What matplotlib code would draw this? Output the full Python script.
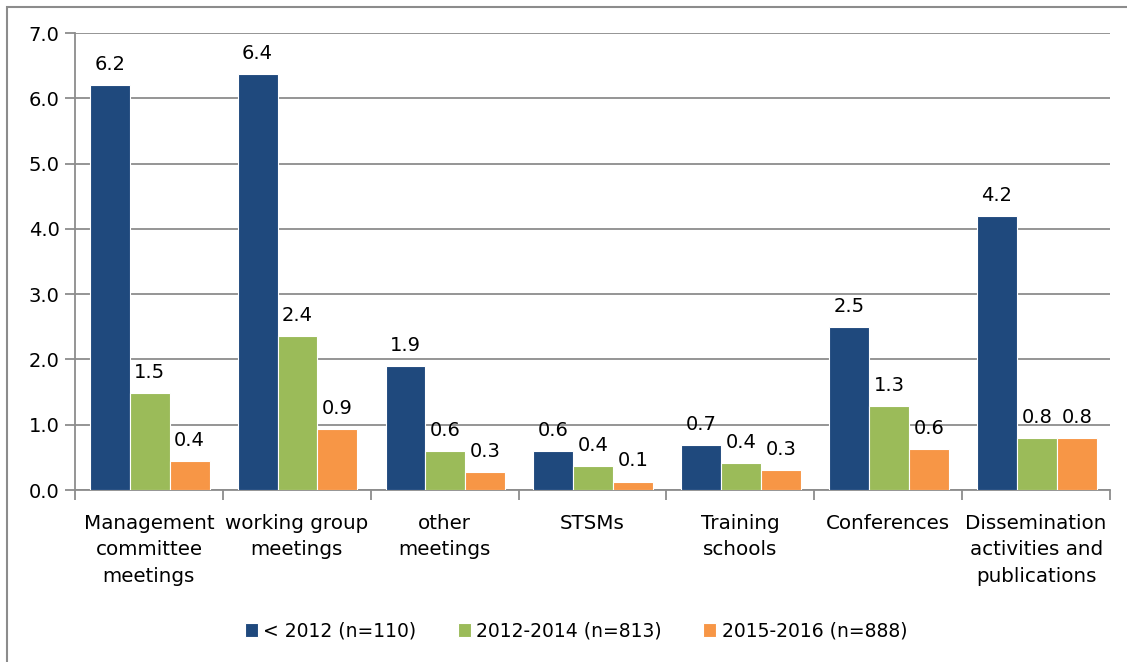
import matplotlib.pyplot as plt
import numpy as np
from matplotlib.patches import Rectangle

plt.rcParams['font.family'] = ['DejaVu Sans']

categories = ['Management\ncommittee\nmeetings', 'working group\nmeetings', 'other\nmeetings',
              'STSMs', 'Training\nschools', 'Conferences',
              'Dissemination\nactivities and\npublications']
series_names = ['< 2012 (n=110)', '2012-2014 (n=813)', '2015-2016 (n=888)']
before_2012 = [6.2, 6.37, 1.9, 0.6, 0.69, 2.5, 4.2]
y2012_2014 = [1.49, 2.36, 0.6, 0.36, 0.41, 1.29, 0.8]
y2015_2016 = [0.44, 0.93, 0.28, 0.13, 0.3, 0.63, 0.8]
colors = ['#1F497D', '#9BBB59', '#F79646']

fig = plt.figure(figsize=(11.27, 6.62), dpi=100)
ax = fig.add_axes([75/1127, 1 - 490/662, 1035/1127, 457/662])

x = np.arange(len(categories))
w = 0.27
for i, (vals, c, name) in enumerate(zip([before_2012, y2012_2014, y2015_2016], colors, series_names)):
    pos = x + (i - 1) * w + 0.005
    bars = ax.bar(pos, vals, w, color=c, edgecolor='white', linewidth=0.8, label=name, zorder=3)
    for b, v in zip(bars, vals):
        ax.text(b.get_x() + b.get_width() / 2, v + 0.17, f'{v:.1f}', ha='center', va='bottom',
                fontsize=14, color='black')

ax.set_xlim(-0.5, len(categories) - 0.5)
ax.set_ylim(0, 7)
ax.set_yticks(np.arange(0, 7.01, 1))
ax.set_yticklabels([f'{t:.1f}' for t in np.arange(0, 7.01, 1)], fontsize=14)
ax.yaxis.grid(True, color='#8c8c8c', linewidth=1.3, zorder=0)
ax.set_axisbelow(True)

ax.set_xticks(x)
ax.set_xticklabels(categories, fontsize=14.3, linespacing=1.5, va='top')
ax.tick_params(axis='x', which='major', length=0, pad=17)
ax.set_xticks(np.arange(-0.5, len(categories)), minor=True)
ax.tick_params(axis='x', which='minor', length=7, color='#8c8c8c', width=1.3)
ax.tick_params(axis='y', length=7, color='#8c8c8c', width=1.3, pad=4)

for s in ['top', 'right']:
    ax.spines[s].set_visible(False)
for s in ['left', 'bottom']:
    ax.spines[s].set_color('#8c8c8c')
    ax.spines[s].set_linewidth(1.3)

leg = fig.legend(loc='center', bbox_to_anchor=(576/1127, 1 - 631/662), ncol=3, frameon=False,
                 fontsize=13.5, handlelength=0.7, handleheight=0.7, handletextpad=0.3,
                 columnspacing=2.2)

# outer chart border (left and top visible)
fig.add_artist(Rectangle((7/1127, -0.1), 1.2, 1 - 7/662 + 0.1, transform=fig.transFigure,
                         fill=False, edgecolor='#8c8c8c', linewidth=1.5))

fig.savefig('out.png', dpi=100)
